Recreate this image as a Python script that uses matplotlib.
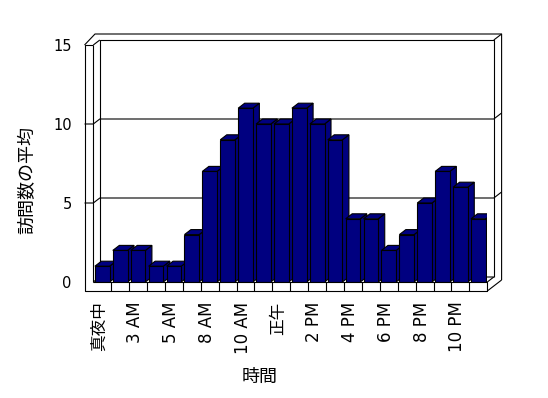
import matplotlib
matplotlib.use("Agg")
import matplotlib.pyplot as plt
import matplotlib.transforms as mtransforms
from matplotlib.patches import Polygon

# Latin from DejaVu (wider, like the original), Japanese from Noto CJK
plt.rcParams['font.family'] = ['DejaVu Sans', 'Noto Sans CJK JP']

# data
hours = ['真夜中', '1 AM', '3 AM', '4 AM', '5 AM', '6 AM', '8 AM', '9 AM',
         '10 AM', '11 AM', '正午', '1 PM', '2 PM', '3 PM', '4 PM', '5 PM',
         '6 PM', '7 PM', '8 PM', '9 PM', '10 PM', '11 PM']
visits = [1, 2, 2, 1, 1, 3, 7, 9, 11, 10, 10, 11, 10, 9, 4, 4, 2, 3, 5, 7, 6, 4]
y_ticks = [0, 5, 10, 15]
x_title = '時間'
y_title = '訪問数の平均'

W, H = 548, 398
fig = plt.figure(figsize=(W / 100, H / 100), dpi=100)

# front plane of the 3d box, in pixels from the top left
left, right, top, bottom = 93.3, 487.3, 45, 282
ax = fig.add_axes([left / W, 1 - bottom / H, (right - left) / W, (bottom - top) / H])
n = len(visits)
ymax = y_ticks[-1]
ax.set_xlim(0, n)
ax.set_ylim(0, ymax)
for s in ax.spines.values():
    s.set_visible(False)

# depth offset (data units) for one unit of depth
DX = 6.5 / ((right - left) / n)
DY = 5.0 / ((bottom - top) / ymax)
WALL = 2.2     # depth of the back wall's outer face
LW = 0.49      # left wall thickness, x units
FL = 0.57      # floor thickness, y units
EDGE = 0.8


def line(xs, ys, z=1):
    ax.plot(xs, ys, color='black', lw=EDGE, clip_on=False, zorder=z,
            solid_capstyle='butt')


# gridlines: left wall face, diagonal, back wall, back wall side
for v in y_ticks[1:-1]:
    line([-LW, 0, DX, n + DX, n + WALL * DX],
         [v, v, v + DY, v + DY, v + WALL * DY])

# floor back edge
line([0, DX, n + DX], [0, DY, DY])

# back wall
line([DX, DX, n + DX, n + DX], [DY, ymax + DY, ymax + DY, DY])
line([n + DX, n + WALL * DX], [ymax + DY, ymax + WALL * DY])
line([-LW, 0.095, n + WALL * DX, n + WALL * DX],
     [ymax, ymax + WALL * DY, ymax + WALL * DY, -FL + WALL * DY])

# left wall front face
line([0, -LW, -LW, n, n, 0], [ymax, ymax, -FL, -FL, 0, 0], z=5)
line([0, 0], [0, ymax], z=5)
line([0, DX], [ymax, ymax + DY])

# floor right side
line([n, n + DX], [0, DY], z=5)
line([n, n + WALL * DX], [-FL, -FL + WALL * DY], z=5)

# floor front face category ticks
for i in range(1, n):
    line([i, i], [-FL, 0], z=5)

# bars
bw = 0.82
navy = '#000080'
for i, v in enumerate(visits):
    x0 = i + (1 - bw) / 2
    x1 = x0 + bw
    zo = 3 + i * 0.01
    faces = [
        [(x1, 0), (x1 + DX, DY), (x1 + DX, v + DY), (x1, v)],
        [(x0, v), (x1, v), (x1 + DX, v + DY), (x0 + DX, v + DY)],
        [(x0, 0), (x1, 0), (x1, v), (x0, v)],
    ]
    for f in faces:
        ax.add_patch(Polygon(f, closed=True, facecolor=navy, edgecolor='black',
                             lw=EDGE, zorder=zo))

# ticks and labels
ax.set_xticks([i + 0.5 for i in range(0, n, 2)], hours[::2], rotation=90, fontsize=12)
ax.tick_params(axis='x', length=0, pad=14)
shift = mtransforms.ScaledTranslation(-3 / 100, 0, fig.dpi_scale_trans)
for lbl in ax.get_xticklabels():
    lbl.set_transform(lbl.get_transform() + shift)

ax.set_yticks(y_ticks)
ax.tick_params(axis='y', length=0, pad=15.5, labelsize=10.5)

ax.set_xlabel(x_title, fontsize=13, va='center')
ax.xaxis.set_label_coords(0.423, -0.40)
ax.set_ylabel(y_title, fontsize=13, va='center')
ax.yaxis.set_label_coords(-0.166, 0.43)

fig.savefig('out.png', dpi=100)
